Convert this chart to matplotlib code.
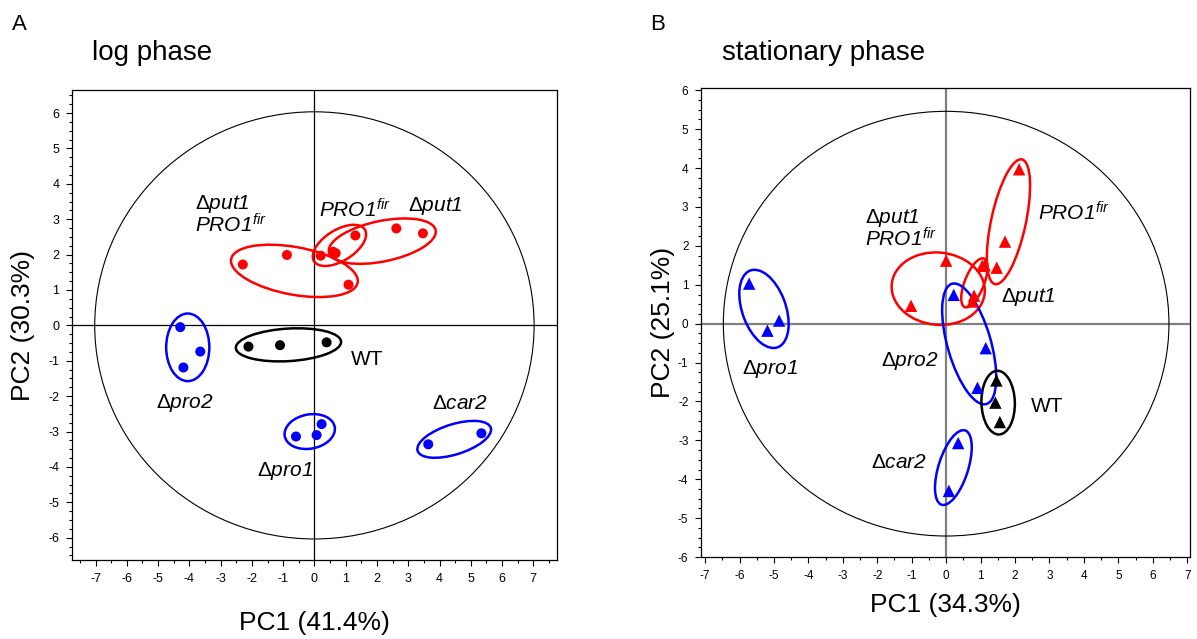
import matplotlib
matplotlib.use("Agg")
import matplotlib.pyplot as plt
from matplotlib.patches import Ellipse
from matplotlib.ticker import MultipleLocator

plt.rcParams['font.family'] = ['Liberation Sans', 'DejaVu Sans']
plt.rcParams['mathtext.fontset'] = 'custom'
plt.rcParams['mathtext.rm'] = 'Liberation Sans'
plt.rcParams['mathtext.it'] = 'Liberation Sans:italic'
plt.rcParams['mathtext.sf'] = 'Liberation Sans:italic'
plt.rcParams['axes.unicode_minus'] = False

# ---------------- data: log phase (panel A) ----------------
log_groups = ['put1pro1', 'pro1fir', 'put1', 'pro2', 'wt', 'pro1', 'car2']
log_pc1 = {
    'put1pro1': [-2.29, -0.88, 1.09],
    'pro1fir':  [0.20, 0.60, 1.31],
    'put1':     [0.68, 2.62, 3.47],
    'pro2':     [-4.29, -3.65, -4.19],
    'wt':       [-2.11, -1.10, 0.39],
    'pro1':     [-0.59, 0.07, 0.23],
    'car2':     [3.64, 5.34],
}
log_pc2 = {
    'put1pro1': [1.72, 1.99, 1.15],
    'pro1fir':  [1.97, 2.08, 2.54],
    'put1':     [2.04, 2.74, 2.60],
    'pro2':     [-0.05, -0.74, -1.19],
    'wt':       [-0.60, -0.56, -0.48],
    'pro1':     [-3.14, -3.10, -2.79],
    'car2':     [-3.36, -3.05],
}
# ---------------- data: stationary phase (panel B) ----------------
sta_groups = ['put1pro1', 'pro1fir', 'put1', 'pro2', 'wt', 'pro1', 'car2']
sta_pc1 = {
    'put1pro1': [0.00, -1.02, 0.81],
    'pro1fir':  [2.12, 1.71, 1.47],
    'put1':     [1.05, 1.12, 0.76],
    'pro2':     [0.22, 1.15, 0.91],
    'wt':       [1.46, 1.43, 1.56],
    'pro1':     [-5.72, -4.85, -5.19],
    'car2':     [0.35, 0.08],
}
sta_pc2 = {
    'put1pro1': [1.62, 0.46, 0.72],
    'pro1fir':  [3.97, 2.11, 1.44],
    'put1':     [1.49, 1.50, 0.57],
    'pro2':     [0.74, -0.63, -1.65],
    'wt':       [-1.46, -2.03, -2.53],
    'pro1':     [1.03, 0.08, -0.18],
    'car2':     [-3.07, -4.30],
}
x_ticks = list(range(-7, 8))
y_ticks = list(range(-6, 7))

# ---------------- styles / annotations ----------------
group_color = {'put1pro1': 'red', 'pro1fir': 'red', 'put1': 'red',
               'pro2': 'blue', 'pro1': 'blue', 'car2': 'blue', 'wt': 'black'}

# ellipses: (cx, cy, width, height, angle)
log_ell = {
    'put1pro1': (-0.64, 1.54, 4.10, 1.35, -9),
    'pro1fir':  (0.80, 2.26, 1.86, 0.90, 27),
    'put1':     (2.17, 2.38, 3.47, 1.15, 10),
    'pro2':     (-4.05, -0.62, 1.38, 1.91, 0),
    'wt':       (-0.83, -0.55, 3.37, 0.92, 3),
    'pro1':     (-0.15, -3.00, 1.62, 0.97, 8),
    'car2':     (4.47, -3.22, 2.43, 0.86, 15),
}
sta_ell = {
    'put1pro1': (-0.23, 0.90, 2.71, 1.86, -4),
    'pro1fir':  (1.81, 2.62, 3.30, 1.00, 76),
    'put1':     (0.82, 1.05, 1.37, 0.55, 65),
    'pro2':     (0.67, -0.52, 3.25, 1.25, 108.5),
    'wt':       (1.51, -2.03, 1.64, 0.97, 92),
    'pro1':     (-5.29, 0.38, 2.13, 1.25, 114),
    'car2':     (0.21, -3.70, 2.03, 0.85, 69.5),
}

fig = plt.figure(figsize=(11.97, 6.39), dpi=100)
axA = fig.add_axes([0.0602, 0.1236, 0.4052, 0.7355])
axB = fig.add_axes([0.5856, 0.1283, 0.4085, 0.7340])

def style_axes(ax, xlim, ylim, fs):
    ax.set_xlim(*xlim)
    ax.set_ylim(*ylim)
    ax.set_xticks(x_ticks)
    ax.set_yticks(y_ticks)
    ax.xaxis.set_minor_locator(MultipleLocator(0.5))
    ax.yaxis.set_minor_locator(MultipleLocator(0.25))
    ax.tick_params(which='major', direction='out', length=4, width=0.8,
                   labelsize=fs, pad=5)
    ax.tick_params(which='minor', direction='out', length=2.5, width=0.8)
    for s in ax.spines.values():
        s.set_linewidth(0.9)

style_axes(axA, (-7.75, 7.76), (-6.63, 6.65), 9)
style_axes(axB, (-7.12, 7.08), (-6.0, 6.06), 8.5)

# axis cross lines
axA.axhline(0, color='black', lw=0.9, zorder=1)
axA.axvline(0, color='black', lw=0.9, zorder=1)
axB.axhline(0, color='#808080', lw=1.6, zorder=1)
axB.axvline(0, color='#808080', lw=1.6, zorder=1)

# big reference circles
axA.add_patch(Ellipse((0, 0), 14.05, 12.07, fill=False, ec='black', lw=0.8, zorder=1))
axB.add_patch(Ellipse((0, 0), 12.94, 10.92, fill=False, ec='black', lw=0.8, zorder=1))

for g in log_groups:
    axA.scatter(log_pc1[g], log_pc2[g], s=52, marker='o', color=group_color[g],
                edgecolors='none', zorder=3)
    cx, cy, w, h, a = log_ell[g]
    axA.add_patch(Ellipse((cx, cy), w, h, angle=a, fill=False,
                          ec=group_color[g], lw=1.8, zorder=2))
for g in sta_groups:
    axB.scatter(sta_pc1[g], sta_pc2[g], s=80, marker='^', color=group_color[g],
                edgecolors='none', zorder=3)
    cx, cy, w, h, a = sta_ell[g]
    axB.add_patch(Ellipse((cx, cy), w, h, angle=a, fill=False,
                          ec=group_color[g], lw=1.8, zorder=2))

lab_fs = 15
fir = r'$\mathsf{PRO1}^{\mathsf{fir}}$'
def d(name):
    return r'$\Delta\mathsf{' + name + '}$'

def lab(ax, x, y, s):
    ax.text(x, y, s, fontsize=lab_fs, ha='left', va='baseline', zorder=4)

# panel A labels
lab(axA, -3.81, 3.30, d('put1'))
lab(axA, -3.81, 2.62, fir)
lab(axA, 0.16, 3.05, fir)
lab(axA, 2.98, 3.23, d('put1'))
lab(axA, 1.17, -1.12, 'WT')
lab(axA, -5.06, -2.34, d('pro2'))
lab(axA, -1.84, -4.27, d('pro1'))
lab(axA, 3.75, -2.37, d('car2'))

# panel B labels
lab(axB, -2.37, 2.60, d('put1'))
lab(axB, -2.37, 1.98, fir)
lab(axB, 2.68, 2.64, fir)
lab(axB, 1.60, 0.55, d('put1'))
lab(axB, -1.88, -1.08, d('pro2'))
lab(axB, -5.94, -1.29, d('pro1'))
lab(axB, 2.45, -2.27, 'WT')
lab(axB, -2.19, -3.70, d('car2'))

# axis labels
axA.set_xlabel('PC1 (41.4%)', fontsize=19, labelpad=19)
axA.set_ylabel('PC2 (30.3%)', fontsize=19, labelpad=10)
axB.set_xlabel('PC1 (34.3%)', fontsize=19, labelpad=8)
axB.set_ylabel('PC2 (25.1%)', fontsize=19, labelpad=2)

# panel letters and titles
fig.text(12/1197, 1 - 30/639, 'A', fontsize=16, ha='left', va='baseline')
fig.text(650/1197, 1 - 30/639, 'B', fontsize=16, ha='left', va='baseline')
fig.text(92/1197, 1 - 60/639, 'log phase', fontsize=20, ha='left', va='baseline')
fig.text(722/1197, 1 - 60/639, 'stationary phase', fontsize=20, ha='left', va='baseline')

fig.savefig('out.png', dpi=100)
